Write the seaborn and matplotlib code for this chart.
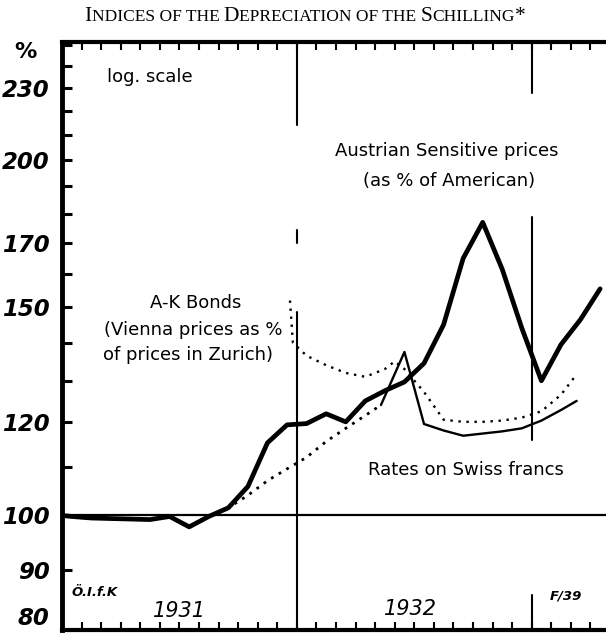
import matplotlib
matplotlib.use("Agg")
import matplotlib.pyplot as plt
import seaborn as sns
from matplotlib.ticker import FixedFormatter, FixedLocator, NullFormatter

# x values are months counted from 1 January 1931
PRICE_MONTHS = [0, 0.5, 1.5, 2.5, 3.5, 4.5, 5.5, 6.5, 7.5, 8.5, 9.5, 10.5, 11.5, 12.5,
                13.5, 14.5, 15.5, 16.5, 17.5, 18.5, 19.5, 20.5, 21.5, 22.5, 23.5,
                24.5, 25.5, 26.5, 27.5]
PRICE_VALUES = [100, 99.8, 99.5, 99.4, 99.3, 99.2, 99.8, 97.8, 99.8, 101.5, 105.8, 115.2,
                119.3, 119.6, 121.9, 120, 125, 127.5, 129.7, 134.5, 145, 165, 177,
                161.5, 144, 130, 139.5, 146.5, 155.5]

SWISS_DOTTED_MONTHS = [7.6, 8.5, 9.5, 10.5, 11.5, 12.5, 13.5, 14.5, 15.5, 16.3]
SWISS_DOTTED_VALUES = [100, 101.5, 104, 107, 109.5, 112, 115.5, 118.5, 121.5, 124]
SWISS_MONTHS = [16.3, 17.5, 18.5, 19.5, 20.5, 21.5, 22.5, 23.5, 24.5, 25.5, 26.3]
SWISS_VALUES = [124, 137.5, 119.5, 118, 116.8, 117.3, 117.8, 118.5, 120.3, 122.8, 125]

BOND_MONTHS = [11.65, 11.8, 12.5, 13.5, 14.5, 15.5, 16.5, 17.0, 17.5, 18.5, 19.5, 20.5,
               21.5, 22.5, 23.5, 24.5, 25.5, 26.2]
BOND_VALUES = [152, 140, 136.5, 134, 132, 131, 133, 135, 133, 127.2, 120.5, 120, 120,
               120.3, 121, 122.5, 126.5, 131]

Y_LABELS = [80, 90, 100, 120, 150, 170, 200, 230]
Y_MINOR = [110, 130, 140, 160, 180, 190, 210, 220, 240, 250]
MONTH_TICKS = list(range(0, 28))

W, H = 606, 634

sns.set_theme(style="white")
plt.rcParams["font.family"] = ["DejaVu Sans"]
plt.rcParams["text.color"] = "black"
plt.rcParams["ytick.color"] = "black"
plt.rcParams["xtick.color"] = "black"


def fx(px):
    return px / W


def fy(py):
    return 1 - py / H


def small_caps(fig, text, cx, cy, big=15.5, small=12.5, family="Liberation Serif"):
    renderer = fig.canvas.get_renderer()
    runs = []
    for ch in text:
        up = ch.isupper() or ch == "*"
        if runs and runs[-1][1] == up:
            runs[-1][0] += ch
        else:
            runs.append([ch, up])
    items = []
    for s, up in runs:
        t = fig.text(0, fy(cy), s if up else s.upper(), fontsize=big if up else small,
                     family=family, va="baseline", ha="left", color="black")
        items.append(t)
    widths = [t.get_window_extent(renderer).width for t in items]
    x = cx - sum(widths) / 2
    for t, w in zip(items, widths):
        t.set_x(fx(x))
        x += w


fig = plt.figure(figsize=(W / 100, H / 100), dpi=100)
fig.patch.set_facecolor("white")
ax = fig.add_axes([fx(62), 4 / H, 1 - fx(62), 588 / H])

sns.lineplot(x=PRICE_MONTHS, y=PRICE_VALUES, ax=ax, color="black", linewidth=3.4,
             sort=False, estimator=None, solid_joinstyle="round")
sns.lineplot(x=SWISS_DOTTED_MONTHS, y=SWISS_DOTTED_VALUES, ax=ax, color="black",
             linewidth=2.0, linestyle=(0, (1, 2.2)), sort=False, estimator=None)
sns.lineplot(x=SWISS_MONTHS, y=SWISS_VALUES, ax=ax, color="black", linewidth=1.7,
             sort=False, estimator=None)
sns.lineplot(x=BOND_MONTHS, y=BOND_VALUES, ax=ax, color="black", linewidth=1.7,
             linestyle=(0, (1, 2.4)), sort=False, estimator=None)

ax.axhline(100, color="black", lw=1.6)
# year boundaries, broken where the original drawing is interrupted
for lo, hi in [(0.859, 1), (0.658, 0.68), (0, 0.54)]:
    ax.axvline(12, ymin=lo, ymax=hi, color="black", lw=1.5)
for lo, hi in [(0.913, 1), (0.323, 0.702), (0, 0.06)]:
    ax.axvline(24, ymin=lo, ymax=hi, color="black", lw=1.5)

ax.set_yscale("log")
ax.set_ylim(80, 251.5)
ax.set_xlim(0, 27.8)
ax.yaxis.set_major_locator(FixedLocator(Y_LABELS))
ax.yaxis.set_major_formatter(FixedFormatter([str(v) for v in Y_LABELS]))
ax.yaxis.set_minor_locator(FixedLocator(Y_MINOR))
ax.yaxis.set_minor_formatter(NullFormatter())
ax.xaxis.set_major_locator(FixedLocator(MONTH_TICKS))
ax.tick_params(axis="y", which="both", direction="in", left=True, length=7, width=2.2,
               labelsize=16.5, pad=9, color="black", labelcolor="black")
ax.tick_params(axis="x", which="both", direction="in", top=True, bottom=True, length=6,
               width=1.5, labelbottom=False, color="black")
for lab in ax.get_yticklabels():
    lab.set_fontweight("bold")
    lab.set_fontstyle("italic")
# the lowest label sits on the bottom edge, so lift it above its tick
ax.get_yticklabels()[0].set_verticalalignment("bottom")
ax.set_xlabel("")
ax.set_ylabel("")
ax.grid(False)

ax.spines["right"].set_visible(False)
ax.spines["left"].set_linewidth(3.5)
ax.spines["top"].set_linewidth(3.0)
ax.spines["bottom"].set_linewidth(3.0)
for s in ax.spines.values():
    s.set_color("black")

fig.text(fx(25), fy(52), "%", fontsize=16, fontweight="bold", ha="center", va="center")

label_kw = dict(fontsize=13, ha="center", va="center", color="black")
fig.text(fx(150), fy(77), "log. scale", **label_kw)
fig.text(fx(447), fy(151), "Austrian Sensitive prices", **label_kw)
fig.text(fx(449), fy(181), "(as % of American)", **label_kw)
fig.text(fx(196), fy(303), "A-K Bonds", **label_kw)
fig.text(fx(193), fy(330), "(Vienna prices as %", **label_kw)
fig.text(fx(188), fy(355), "of prices in Zurich)", **label_kw)
fig.text(fx(466), fy(470), "Rates on Swiss francs", **label_kw)

fig.text(fx(179), fy(611), "1931", fontsize=15, fontstyle="italic", ha="center", va="center")
fig.text(fx(410), fy(609), "1932", fontsize=15, fontstyle="italic", ha="center", va="center")
fig.text(fx(95), fy(593), "Ö.I.f.K", fontsize=9.5, fontweight="bold", fontstyle="italic",
         ha="center", va="center")
fig.text(fx(566), fy(596), "F/39", fontsize=9.5, fontweight="bold", fontstyle="italic",
         ha="center", va="center")

small_caps(fig, "Indices of the Depreciation of the Schilling*", 305, 21)

fig.savefig("out.png", dpi=100, facecolor="white")
